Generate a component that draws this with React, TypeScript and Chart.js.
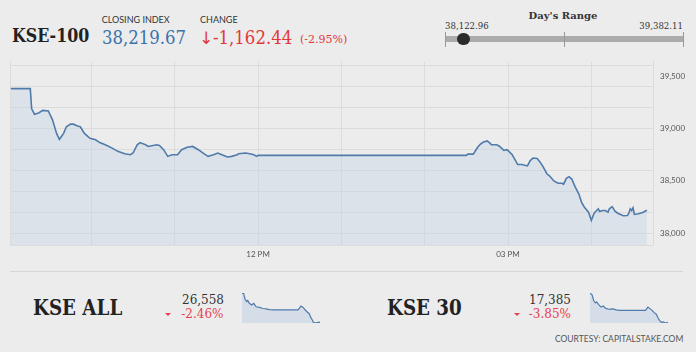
import React, { useEffect, useRef } from "react";
import { Chart, registerables } from "chart.js";
Chart.register(...registerables);

// ---------- data ----------
// KSE-100 intraday: minutes since midnight, index level
const mainTimes = [
  542, 556, 557, 559, 562, 565, 569, 572, 575, 577,
  580, 582, 585, 587, 590, 592, 595, 599, 603, 606,
  610, 615, 619, 624, 628, 630, 633, 635, 639, 641,
  647, 649, 652, 655, 658, 662, 665, 669, 673, 677,
  681, 684, 688, 691, 694, 698, 701, 705, 706, 711,
  714, 717, 719, 720, 870, 871, 875, 878, 880, 882,
  885, 887, 888, 892, 894, 897, 899, 900, 903, 905,
  907, 910, 912, 914, 916, 918, 921, 923, 925, 928,
  930, 933, 936, 939, 940, 942, 944, 946, 948, 951,
  953, 955, 958, 960, 962, 965, 966, 968, 970, 972,
  973, 975, 977, 979, 983, 986, 987, 988, 989, 990,
  991, 994, 997, 1000,
];
const mainValues = [
  39382, 39382, 39189, 39137, 39149, 39174, 39168, 39083, 38951, 38897,
  38954, 39017, 39042, 39042, 39024, 39017, 38954, 38907, 38892, 38866,
  38845, 38813, 38782, 38760, 38750, 38766, 38845, 38866, 38845, 38829,
  38845, 38838, 38798, 38734, 38750, 38750, 38798, 38822, 38829, 38798,
  38760, 38734, 38750, 38766, 38750, 38728, 38734, 38750, 38760, 38766,
  38760, 38750, 38734, 38744, 38744, 38756, 38756, 38819, 38850, 38869,
  38882, 38860, 38845, 38845, 38829, 38791, 38798, 38791, 38750, 38703,
  38656, 38656, 38650, 38643, 38694, 38718, 38713, 38681, 38640, 38568,
  38546, 38499, 38477, 38477, 38468, 38524, 38540, 38515, 38452, 38374,
  38295, 38248, 38201, 38123, 38191, 38233, 38207, 38217, 38217, 38201,
  38233, 38254, 38210, 38191, 38167, 38169, 38191, 38233, 38217, 38242,
  38179, 38185, 38198, 38219.67,
];

const yLabelValues = [38000, 38500, 39000, 39500];
const yGridValues = [38000, 38200, 38400, 38600, 38800, 39000, 39200, 39400, 39600];
const xGridTimes = [600, 660, 720, 780, 840, 900, 960];
const xLabelTimes = [720, 900];
const xLabelTexts = ["12 PM", "03 PM"];

const closingIndex = 38219.67;
const changeValue = -1162.44;
const changePct = -2.95;
const dayLow = 38122.96;
const dayHigh = 39382.11;

// KSE ALL sparkline
const allTimes = [542, 552, 560, 570, 576, 585, 599, 611, 625, 645, 664, 684, 704, 724, 872, 888, 901, 911, 925, 937, 945, 955, 961, 970, 990, 1000];
const allValues = [27200, 27185, 27064, 27011, 27033, 26973, 26935, 26973, 26897, 26882, 26859, 26851, 26836, 26828, 26828, 26912, 26882, 26836, 26783, 26745, 26669, 26608, 26555, 26540, 26555, 26558];
const allClose = 26558;
const allPct = -2.46;

// KSE 30 sparkline
const k30Times = [542, 554, 564, 574, 581, 593, 607, 621, 632, 652, 676, 695, 715, 868, 882, 896, 908, 917, 931, 941, 951, 961, 971, 986, 1000];
const k30Values = [18080, 18038, 17896, 17846, 17871, 17804, 17746, 17771, 17721, 17696, 17704, 17679, 17671, 17671, 17746, 17704, 17662, 17621, 17579, 17495, 17428, 17387, 17395, 17370, 17385];
const k30Close = 17385;
const k30Pct = -3.85;

// ---------- styles ----------
const SERIF = '"DejaVu Serif", "Liberation Serif", serif';
const SANS = 'Lato, "DejaVu Sans", sans-serif';
const BG = "#ececec";
const GRID = "#dcdcdc";
const LINE = "#4f7baa";
const FILL = "rgba(190,208,228,0.34)";
const RED = "#e2383a";
const PINK = "#e6404f";
const BLUE = "#3a72ab";

const fmt = (v: number, d = 0) =>
  v.toLocaleString("en-US", { minimumFractionDigits: d, maximumFractionDigits: d });

type TP = {
  x: number;
  base: number;
  size: number;
  fam?: "serif" | "sans" | "dvsans";
  weight?: number | string;
  color?: string;
  align?: "left" | "right" | "center";
  sx?: number;
  children: React.ReactNode;
};

function T({ x, base, size, fam = "serif", weight = 400, color = "#222", align = "left", sx = 1, children }: TP) {
  const asc = fam === "sans" ? 0.887 : 0.846;
  const family = fam === "sans" ? SANS : fam === "dvsans" ? '"DejaVu Sans", sans-serif' : SERIF;
  const style: React.CSSProperties = {
    position: "absolute",
    top: base - asc * size,
    fontFamily: family,
    fontSize: size,
    lineHeight: `${size}px`,
    fontWeight: weight as any,
    color,
    whiteSpace: "nowrap",
  };
  const tf: string[] = [];
  if (align === "right") {
    style.right = 696 - x;
    style.transformOrigin = "right top";
  } else if (align === "center") {
    style.left = x;
    tf.push("translateX(-50%)");
    style.transformOrigin = "left top";
  } else {
    style.left = x;
    style.transformOrigin = "left top";
  }
  if (sx !== 1) tf.push(`scaleX(${sx})`);
  if (tf.length) style.transform = tf.join(" ");
  return <div style={style}>{children}</div>;
}

function MainChart() {
  const ref = useRef<HTMLCanvasElement>(null);
  useEffect(() => {
    const chart = new Chart(ref.current!, {
      type: "line",
      data: {
        datasets: [
          {
            data: mainTimes.map((t, i) => ({ x: t, y: mainValues[i] })),
            borderColor: LINE,
            borderWidth: 1.6,
            pointRadius: 0,
            tension: 0,
            fill: "start",
            backgroundColor: FILL,
          },
        ],
      },
      options: {
        animation: false,
        responsive: false,
        maintainAspectRatio: false,
        layout: { padding: { left: 10, top: 9, right: 0, bottom: 0 } },
        plugins: { legend: { display: false }, tooltip: { enabled: false } },
        scales: {
          x: {
            type: "linear",
            min: 541.4,
            max: 1004.4,
            afterBuildTicks: (s: any) => {
              s.ticks = [541.4, ...xGridTimes].map((v) => ({ value: v }));
            },
            afterFit: (s: any) => {
              s.height = 20;
            },
            grid: { color: GRID, drawTicks: false, lineWidth: 1 },
            border: { display: true, color: GRID },
            ticks: {
              autoSkip: false,
              maxRotation: 0,
              padding: 5,
              color: "#555",
              font: { family: SANS, size: 8 },
              callback: (v: any) => {
                const i = xLabelTimes.indexOf(Number(v));
                return i >= 0 ? xLabelTexts[i] : "";
              },
            },
          },
          y: {
            position: "right",
            min: 37887,
            max: 39638,
            afterBuildTicks: (s: any) => {
              const all = Array.from(new Set([...yGridValues, ...yLabelValues])).sort((a, b) => a - b);
              s.ticks = all.map((v) => ({ value: v }));
            },
            afterFit: (s: any) => {
              s.width = 43;
            },
            grid: {
              drawTicks: false,
              color: (ctx: any) =>
                ctx.tick && yGridValues.includes(ctx.tick.value) ? GRID : "rgba(0,0,0,0)",
            },
            border: { display: true, color: GRID },
            ticks: {
              autoSkip: false,
              padding: 7,
              color: "#555",
              font: { family: SANS, size: 8 },
              callback: (v: any) => (yLabelValues.includes(Number(v)) ? fmt(Number(v)) : ""),
            },
          },
        },
      },
    });
    return () => chart.destroy();
  }, []);
  return (
    <canvas
      ref={ref}
      width={696}
      height={215}
      style={{ position: "absolute", left: 0, top: 50, width: 696, height: 215 }}
    />
  );
}

function Spark({ times, values, left, top }: { times: number[]; values: number[]; left: number; top: number }) {
  const ref = useRef<HTMLCanvasElement>(null);
  useEffect(() => {
    const chart = new Chart(ref.current!, {
      type: "line",
      data: {
        datasets: [
          {
            data: times.map((t, i) => ({ x: t, y: values[i] })),
            borderColor: LINE,
            borderWidth: 1.2,
            pointRadius: 0,
            tension: 0,
            fill: "start",
            backgroundColor: "rgba(190,208,228,0.5)",
          },
        ],
      },
      options: {
        animation: false,
        responsive: false,
        maintainAspectRatio: false,
        layout: { padding: { top: 1, left: 1, right: 1, bottom: 0 } },
        plugins: { legend: { display: false }, tooltip: { enabled: false } },
        scales: {
          x: { type: "linear", min: times[0], max: times[times.length - 1], display: false },
          y: { min: Math.min(...values), max: Math.max(...values), display: false },
        },
      },
    });
    return () => chart.destroy();
  }, []);
  return (
    <canvas
      ref={ref}
      width={80}
      height={31}
      style={{ position: "absolute", left, top, width: 80, height: 31 }}
    />
  );
}

function Tri({ cx, top }: { cx: number; top: number }) {
  return (
    <div
      style={{
        position: "absolute",
        left: cx - 3,
        top,
        width: 0,
        height: 0,
        borderLeft: "3px solid transparent",
        borderRight: "3px solid transparent",
        borderTop: `3.5px solid ${PINK}`,
      }}
    />
  );
}

export default function App() {
  useEffect(() => {
    document.body.style.margin = "0";
  }, []);
  const barLeft = 445;
  const barWidth = 238;
  const frac = (closingIndex - dayLow) / (dayHigh - dayLow);
  const dotX = barLeft + frac * barWidth;
  return (
    <div
      style={{
        position: "fixed",
        left: 0,
        top: 0,
        width: 696,
        height: 352,
        background: BG,
        overflow: "hidden",
      }}
    >
      {/* header */}
      <T x={11.7} base={42.7} size={18} weight={700} color="#222" sx={0.88}>KSE-100</T>
      <T x={101.7} base={23.3} size={9} fam="sans" color="#333">CLOSING INDEX</T>
      <T x={102} base={44.3} size={19} color={BLUE} sx={0.87}>{fmt(closingIndex, 2)}</T>
      <T x={200} base={23.3} size={9} fam="sans" color="#333">CHANGE</T>
      <T x={199} base={44} size={17} fam="dvsans" color={RED}>↓</T>
      <T x={213} base={44.3} size={19} color={RED} sx={0.87}>{fmt(changeValue, 2)}</T>
      <T x={300} base={43.3} size={11} color={RED}>({changePct.toFixed(2)}%)</T>

      {/* day's range */}
      <T x={563} base={19.3} size={10} weight={700} color="#333" align="center">Day's Range</T>
      <T x={445} base={29.5} size={8.6} color="#333">{fmt(dayLow, 2)}</T>
      <T x={683} base={29.5} size={8.6} color="#333" align="right">{fmt(dayHigh, 2)}</T>
      <div style={{ position: "absolute", left: barLeft, top: 36, width: barWidth, height: 6, background: "#ababab" }} />
      {[0, 0.5, 1].map((f) => (
        <div
          key={f}
          style={{ position: "absolute", left: barLeft + f * barWidth - 0.5, top: 32, width: 1, height: 15, background: "#999" }}
        />
      ))}
      <div
        style={{
          position: "absolute",
          left: dotX - 6.3,
          top: 32.7,
          width: 12.6,
          height: 12.6,
          borderRadius: "50%",
          background: "#2b2b2b",
        }}
      />

      <MainChart />

      {/* separator */}
      <div style={{ position: "absolute", left: 10, top: 271, width: 673, height: 1, background: "#d6d6d6" }} />

      {/* KSE ALL */}
      <T x={33.3} base={315} size={21.5} weight={700} color="#222" sx={0.85}>KSE ALL</T>
      <T x={224} base={304.3} size={12} color="#333" align="right">{fmt(allClose)}</T>
      <T x={223.5} base={318.3} size={12} color={PINK} align="right">{allPct.toFixed(2)}%</T>
      <Tri cx={167.5} top={313} />
      <Spark times={allTimes} values={allValues} left={241} top={292} />

      {/* KSE 30 */}
      <T x={386.7} base={315} size={21.5} weight={700} color="#222" sx={0.85}>KSE 30</T>
      <T x={571} base={304.3} size={12} color="#333" align="right">{fmt(k30Close)}</T>
      <T x={571} base={318.3} size={12} color={PINK} align="right">{k30Pct.toFixed(2)}%</T>
      <Tri cx={517.3} top={313} />
      <Spark times={k30Times} values={k30Values} left={589} top={292} />

      <T x={683.3} base={343} size={8.5} fam="sans" color="#555" align="right">COURTESY: CAPITALSTAKE.COM</T>
    </div>
  );
}
